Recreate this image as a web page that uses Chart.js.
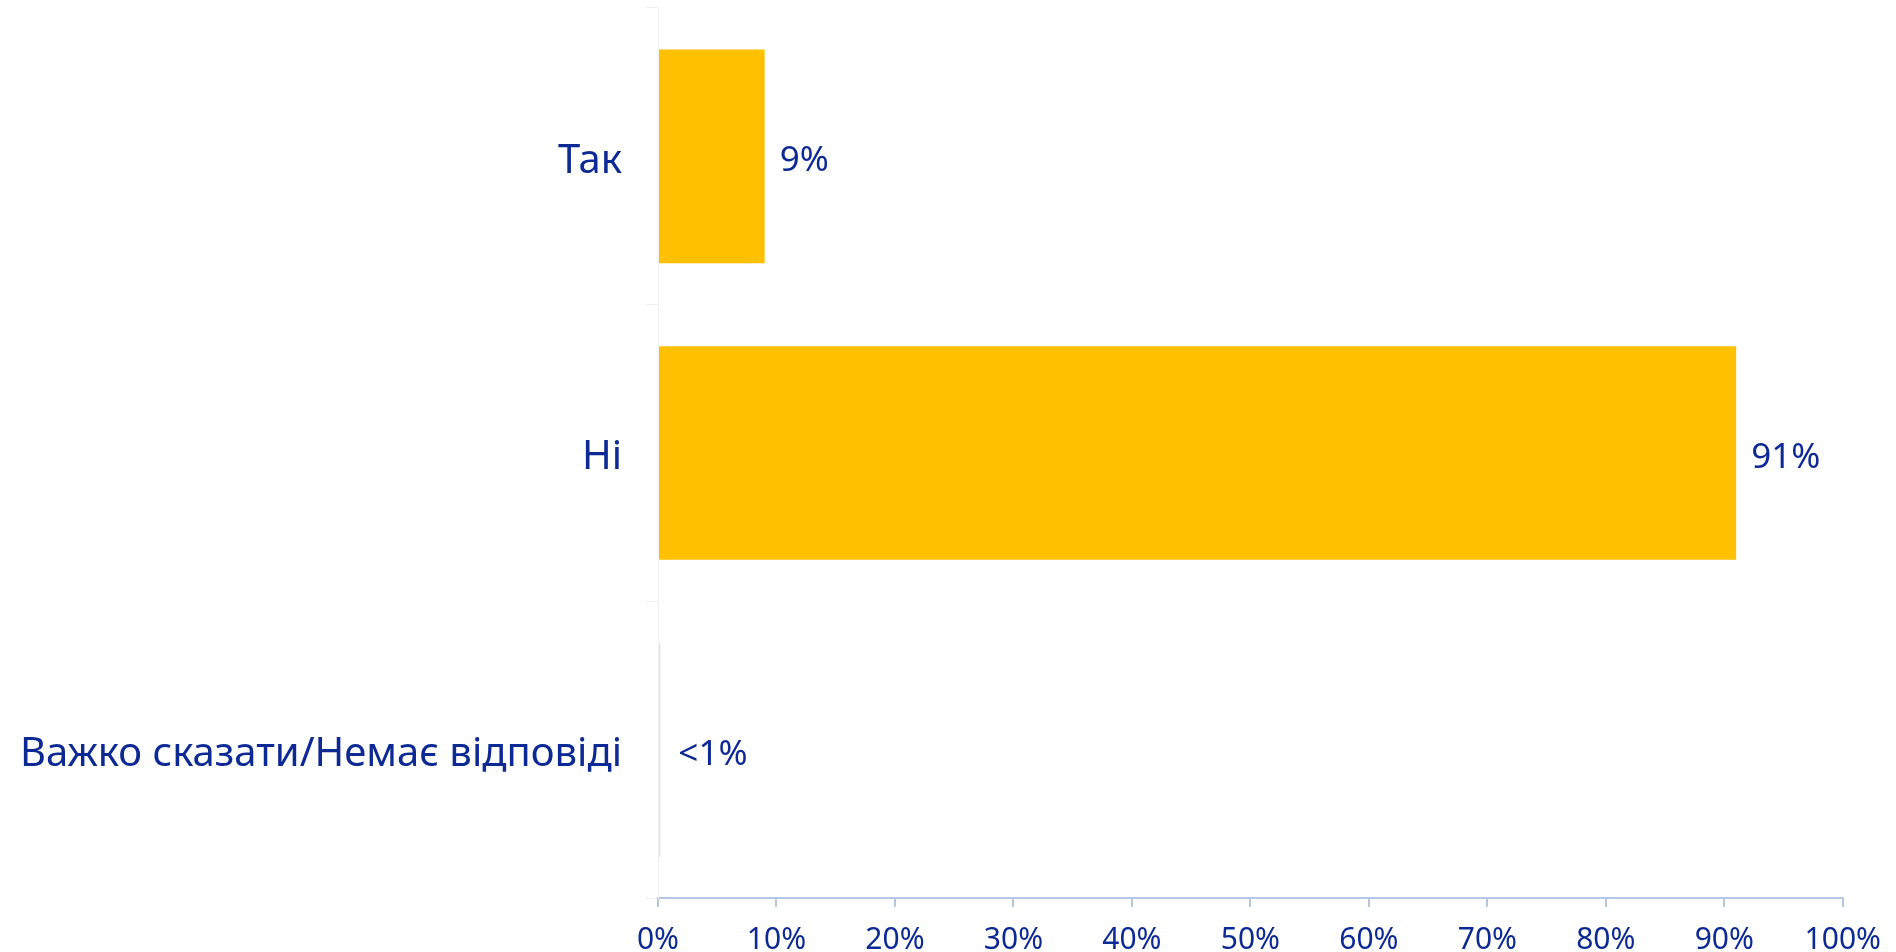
<!DOCTYPE html>
<html>
<head>
<meta charset="utf-8">
<script src="https://cdn.jsdelivr.net/npm/chart.js@4"></script>
<style>
  html, body { margin: 0; padding: 0; background: #ffffff; }
  #wrap { width: 1896px; height: 952px; }
</style>
</head>
<body>
<div id="wrap"><canvas id="answerChart"></canvas></div>
<script>
// Chart data
const categories = ['Так', 'Ні', 'Важко сказати/Немає відповіді'];
const shares = [9, 91, 0.2];
const shareLabels = ['9%', '91%', '<1%'];
const xTicks = [0, 10, 20, 30, 40, 50, 60, 70, 80, 90, 100];

const textBlue = '#0d2a94';
const fontFamily = "'Noto Sans', sans-serif";

// draw the value text at the end of each bar
const valueLabels = {
    id: 'valueLabels',
    afterDatasetsDraw(chart) {
        const ctx = chart.ctx;
        const meta = chart.getDatasetMeta(0);
        ctx.save();
        ctx.font = '35px ' + fontFamily;
        ctx.fillStyle = textBlue;
        ctx.textBaseline = 'middle';
        ctx.textAlign = 'left';
        meta.data.forEach((bar, i) => {
            const off = shares[i] < 1 ? 18 : 15;
            ctx.fillText(shareLabels[i], bar.x + off, bar.y + 5);
        });
        ctx.restore();
    }
};

new Chart(document.getElementById('answerChart'), {
    type: 'bar',
    data: {
        labels: categories,
        datasets: [{
            data: shares,
            backgroundColor: ['#ffc000', '#ffc000', '#e3e3e3'],
            categoryPercentage: 0.72,
            barPercentage: 1
        }]
    },
    plugins: [valueLabels],
    options: {
        indexAxis: 'y',
        responsive: true,
        maintainAspectRatio: false,
        animation: false,
        layout: { padding: { top: 8, right: 53, left: 0, bottom: 0 } },
        plugins: {
            legend: { display: false },
            tooltip: { enabled: false }
        },
        scales: {
            x: {
                min: 0,
                max: 100,
                afterBuildTicks: (scale) => { scale.ticks = xTicks.map(v => ({ value: v })); },
                afterFit: (scale) => { scale.height = 54; },
                border: { display: true, color: '#b4c7e7', width: 2 },
                grid: { drawOnChartArea: false, color: '#b4c7e7', tickLength: 9, lineWidth: 2 },
                ticks: {
                    color: textBlue,
                    font: { family: fontFamily, size: 30 },
                    padding: 15,
                    maxRotation: 0,
                    callback: (v) => v + '%'
                }
            },
            y: {
                afterFit: (scale) => {
                    scale.width = 658;
                    scale.paddingTop = 0;
                    scale.paddingBottom = 0;
                },
                border: { display: true, color: '#f0f0f0', width: 1 },
                grid: { drawOnChartArea: false, color: '#f0f0f0', tickLength: 12, offset: true },
                ticks: {
                    color: textBlue,
                    font: { family: fontFamily, size: 40 },
                    padding: 24,
                    labelOffset: 5
                }
            }
        }
    }
});
</script>
</body>
</html>
